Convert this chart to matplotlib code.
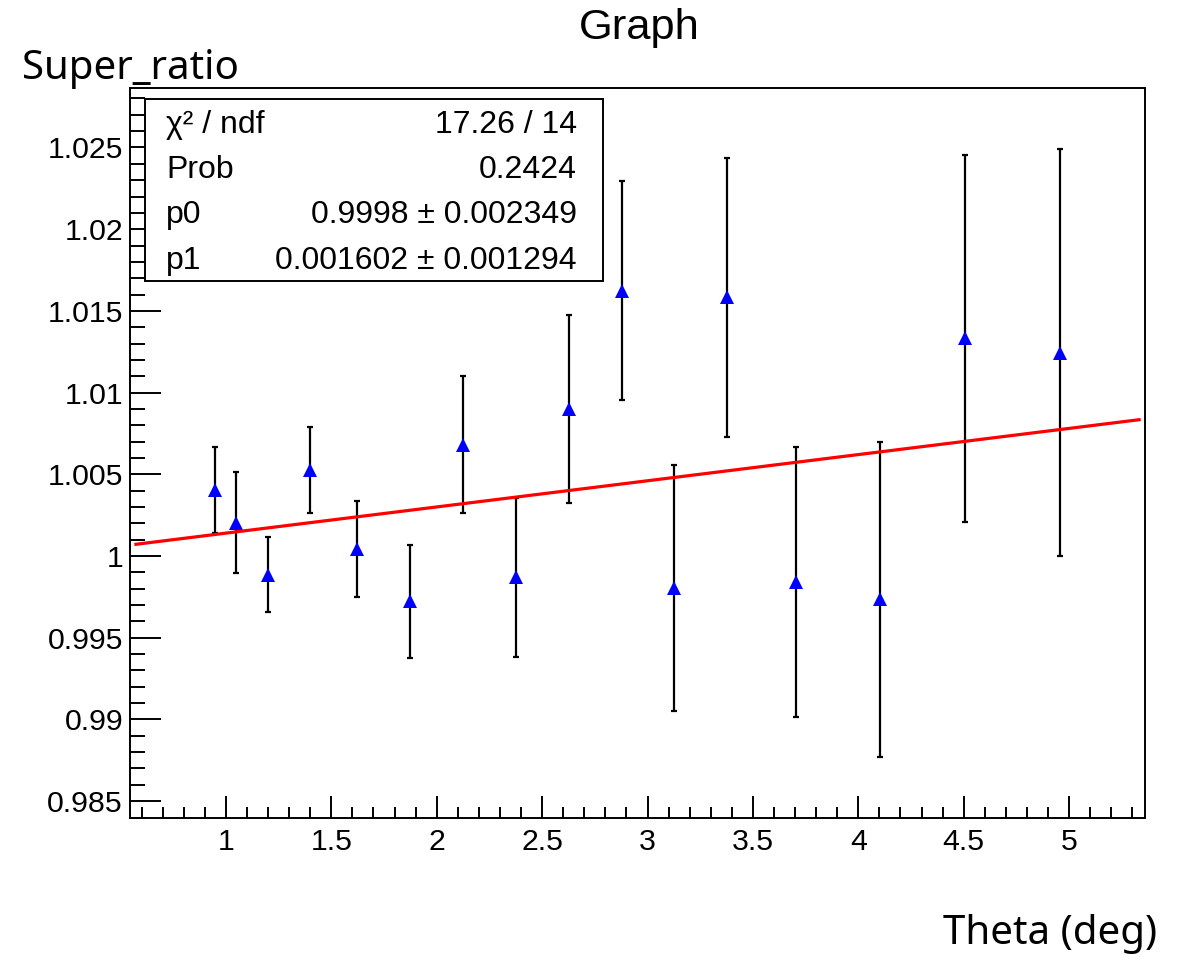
import matplotlib
matplotlib.use("Agg")
import matplotlib.pyplot as plt
from matplotlib.ticker import MultipleLocator
from matplotlib.patches import Rectangle
import numpy as np

# ---- data ----
theta = [0.946, 1.046, 1.198, 1.398, 1.624, 1.875, 2.125, 2.376,
         2.626, 2.877, 3.128, 3.378, 3.705, 4.104, 4.506, 4.957]
ratio = [1.00404, 1.00205, 0.99887, 1.00527, 1.00044, 0.99722, 1.00682, 0.99870,
         1.00900, 1.01622, 0.99804, 1.01583, 0.99840, 0.99736, 1.01332, 1.01245]
ratio_err = [0.00265, 0.00307, 0.00229, 0.00264, 0.00293, 0.00348, 0.00417, 0.00486,
             0.00573, 0.00670, 0.00753, 0.00855, 0.00827, 0.00964, 0.01122, 0.01245]
p0, p0_err = 0.9998, 0.002349
p1, p1_err = 0.001602, 0.001294
chi2, ndf, prob = 17.26, 14, 0.2424
fit_range = [0.573, 5.332]
xlim = (0.545, 5.36)
ylim = (0.98397, 1.02864)

W, H = 1185, 959
fig = plt.figure(figsize=(W / 100, H / 100), dpi=100)
ax = fig.add_axes([130 / W, 1 - 818 / H, (1145 - 130) / W, (818 - 88) / H])

root_font = "Liberation Sans"

ax.errorbar(theta, ratio, yerr=ratio_err, fmt="none", ecolor="black",
            elinewidth=1.6, capsize=2.4, capthick=1.6, zorder=2)
ax.plot(theta, ratio, linestyle="none", marker="^", markersize=10,
        color="#0000ff", markeredgewidth=0, zorder=3)

xf = np.linspace(fit_range[0], fit_range[1], 200)
ax.plot(xf, p0 + p1 * xf, color="#ff0000", linewidth=2.3, zorder=4)

ax.set_xlim(*xlim)
ax.set_ylim(*ylim)
ax.xaxis.set_minor_locator(MultipleLocator(0.1))
ax.yaxis.set_minor_locator(MultipleLocator(0.001))

ax.set_xticks([1, 1.5, 2, 2.5, 3, 3.5, 4, 4.5, 5])
ax.set_xticklabels(["1", "1.5", "2", "2.5", "3", "3.5", "4", "4.5", "5"])
yt = [0.985, 0.99, 0.995, 1.0, 1.005, 1.01, 1.015, 1.02, 1.025]
ax.set_yticks(yt)
ax.set_yticklabels(["0.985", "0.99", "0.995", "1", "1.005", "1.01", "1.015", "1.02", "1.025"])

ax.tick_params(axis="x", which="major", direction="in", length=15.8, width=1.4, pad=7)
ax.tick_params(axis="x", which="minor", direction="in", length=7.9, width=1.4)
ax.tick_params(axis="y", which="major", direction="in", length=22, width=1.4, pad=5)
ax.tick_params(axis="y", which="minor", direction="in", length=11, width=1.4)
for lab in ax.get_xticklabels() + ax.get_yticklabels():
    lab.set_fontfamily(root_font)
    lab.set_fontsize(21.8)
for s in ax.spines.values():
    s.set_linewidth(1.4)

# title
fig.text(639 / W, 1 - 28 / H, "Graph", fontsize=31.3, family=root_font,
         ha="center", va="center")
# axis labels
fig.text(22 / W, 1 - 79 / H, "Super_ratio", fontsize=29, family="Noto Sans",
         ha="left", va="baseline")
fig.text(1157 / W, 1 - 944 / H, "Theta (deg)", fontsize=29, family="Noto Sans",
         ha="right", va="baseline")

# stats box
fig.patches.append(Rectangle((145 / W, 1 - 281 / H), (603 - 145) / W, (281 - 99) / H,
                             transform=fig.transFigure, facecolor="white",
                             edgecolor="black", linewidth=1.4, zorder=5))
rows = [("χ² / ndf", f"{chi2:.2f} / {ndf}"),
        ("Prob", f"{prob:.4f}"),
        ("p0", f"{p0:.4f} ± {p0_err:.6f}"),
        ("p1", f"{p1:.6f} ± {p1_err:.6f}")]
baselines = [133, 178, 223, 269]
for (l, r), b in zip(rows, baselines):
    fig.text(166 / W, 1 - b / H, l, fontsize=23, family=root_font,
             ha="left", va="baseline", zorder=6)
    fig.text(577 / W, 1 - b / H, r, fontsize=23, family=root_font,
             ha="right", va="baseline", zorder=6)

fig.savefig("out.png", dpi=100)
